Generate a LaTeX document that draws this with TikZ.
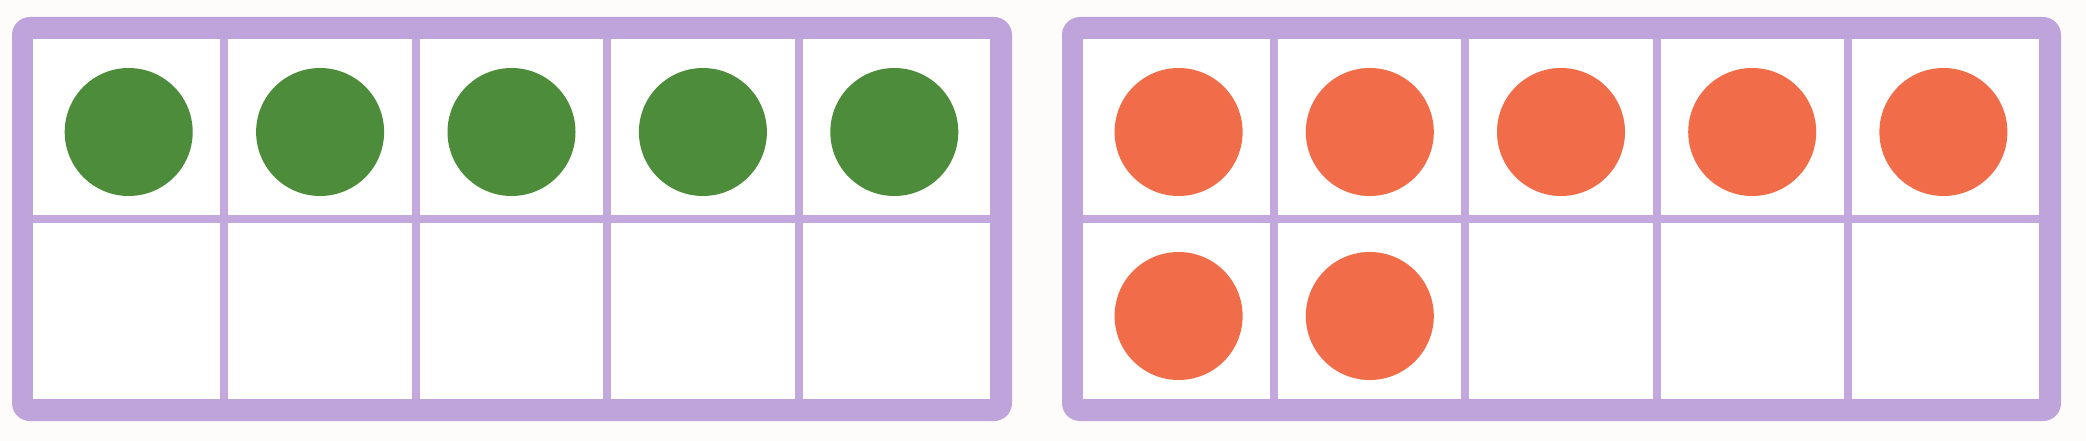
\documentclass[tikz,border=0pt]{standalone}
\definecolor{frame}{RGB}{190,164,218}
\definecolor{gridc}{RGB}{194,168,220}
\definecolor{dotgreen}{RGB}{76,140,58}
\definecolor{dotorange}{RGB}{241,108,72}
\definecolor{paper}{RGB}{253,252,250}
\tikzset{
  outerband/.style={fill=frame, rounded corners=18pt},
  innerfield/.style={fill=white},
  gridline/.style={draw=gridc, line width=8pt},
  gdot/.style={circle, fill=dotgreen, minimum size=128pt, inner sep=0pt},
  odot/.style={circle, fill=dotorange, minimum size=128pt, inner sep=0pt}
}
\begin{document}
\begin{tikzpicture}[x=1pt,y=-1pt]
\fill[paper] (0,0) rectangle (2086,441);
\useasboundingbox (0,0) rectangle (2086,441);
% left ten-frame
\path[outerband] (12,17) rectangle (1012,421);
\path[innerfield] (33,39) rectangle (990,399);
\foreach \k in {1,2,3,4} {\draw[gridline] ({33+191.4*\k},39) -- ({33+191.4*\k},399);}
\draw[gridline] (33,219) -- (990,219);
% right ten-frame
\path[outerband] (1062,17) rectangle (2061,421);
\path[innerfield] (1083,39) rectangle (2039,399);
\foreach \k in {1,2,3,4} {\draw[gridline] ({1083+191.2*\k},39) -- ({1083+191.2*\k},399);}
\draw[gridline] (1083,219) -- (2039,219);
% green dots
\foreach \k in {0,1,2,3,4} {\node[gdot] (g\k) at ({33+95.7+191.4*\k},132) {};}
% orange dots
\foreach \k in {0,1,2,3,4} {\node[odot] (o\k) at ({1083+95.6+191.2*\k},132) {};}
\node[odot] (o5) at ({1083+95.6},316) {};
\node[odot] (o6) at ({1083+95.6+191.2},316) {};
\end{tikzpicture}
\end{document}
